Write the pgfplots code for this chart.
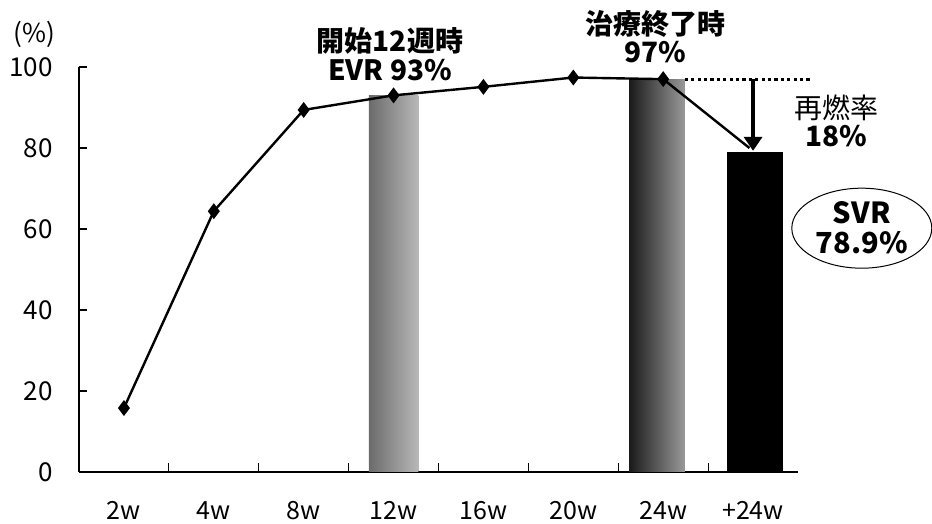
\documentclass[border=0pt]{standalone}
\usepackage{fontspec}
\setmainfont{Noto Sans CJK JP}
\usepackage{pgfplots}
\usepackage{pgfplotstable}
\pgfplotsset{compat=1.18}
\usetikzlibrary{arrows.meta,shapes.geometric}

% HCV-RNA negative rate by treatment week (%)
\pgfplotstableread{
x y
0 15.8
1 64.4
2 89.4
3 93
4 95.1
5 97.4
6 97
}\responsetable

\begin{document}
\begin{tikzpicture}
\begin{axis}[
  at={(0,0)}, anchor=south west,
  scale only axis, width=359.5pt, height=202.5pt,
  xmin=-0.5, xmax=7.5, ymin=0, ymax=100,
  axis lines*=left,
  axis line style={line width=0.7pt},
  clip=false,
  xtick={0,...,7},
  xticklabels={2w,4w,8w,12w,16w,20w,24w,+24w},
  minor xtick={0.5,1.5,...,6.5},
  ytick={0,20,...,100},
  tick align=inside,
  major tick length=4pt, minor tick length=4.5pt,
  tick style={black, line width=0.6pt},
  major x tick style={draw=none},
  /pgf/number format/assume math mode=true,
  yticklabel style={font=\fontsize{13}{14}\selectfont, anchor=east, inner sep=0pt, xshift=-13pt},
  xticklabel style={font=\fontsize{12.5}{14}\selectfont, anchor=base, inner sep=0pt, yshift=-24pt},
]
% bars: week 12, end of treatment, 24 weeks after treatment
\addplot[ybar, bar width=0.55, bar shift=0pt, draw=none,
  left color=black!58, middle color=black!55, right color=black!28] coordinates {(3,93)};
\addplot[ybar, bar width=0.62, bar shift=0pt, draw=none,
  left color=black!90, middle color=black!87, right color=black!40] coordinates {(5.93,97)};
\addplot[ybar, bar width=0.62, bar shift=0pt, draw=none, fill=black] coordinates {(7.02,78.9)};

% drop from end of treatment to SVR
\addplot[black, line width=1.2pt] coordinates {(6,97) (6.96,80)};
\addplot[black, line width=1.2pt, mark=diamond*, mark size=3pt] table {\responsetable};

\draw[line width=1.5pt, dash pattern=on 1.6pt off 1.6pt] (axis cs:6.24,97) -- (axis cs:7.65,97);
\draw[line width=2pt, -{Triangle[width=9pt,length=7pt]}] (axis cs:7.0,97) -- (axis cs:7.0,79.3);

\node[font=\fontsize{13}{14}\selectfont] at (axis cs:-1.0,108.1) {(\%)};
\node[font=\bfseries\fontsize{14}{14.5}\selectfont, align=center] at (axis cs:2.96,103.2) {開始12週時\\EVR 93\%};
\node[font=\bfseries\fontsize{14}{14}\selectfont, align=center] at (axis cs:5.91,107.6) {治療終了時\\97\%};
\node[font=\fontsize{14}{14}\selectfont, align=center] at (axis cs:7.93,86.6) {再燃率\\\bfseries 18\%};
\node[draw, ellipse, line width=0.5pt, inner sep=0pt, minimum width=70pt, minimum height=40pt,
  font=\bfseries\fontsize{14.5}{15}\selectfont, align=center] at (axis cs:8.21,60.2) {SVR\\78.9\%};
\end{axis}
\pgfresetboundingbox
\path (-39.5pt,-26pt) rectangle (426.5pt,236pt);
\end{tikzpicture}
\end{document}
